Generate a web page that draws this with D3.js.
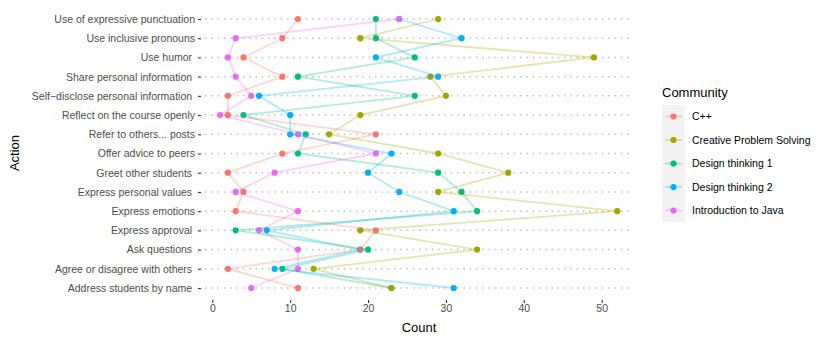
<!DOCTYPE html>
<html>
<head>
<meta charset="utf-8">
<script src="https://cdn.jsdelivr.net/npm/d3@7"></script>
<style>
body{margin:0;background:#fff;}
text{font-family:"Liberation Sans",Arial,sans-serif;}
</style>
</head>
<body>
<svg id="chart" width="830" height="342"></svg>
<script>
// actions, top to bottom
var actions = ["Use of expressive punctuation","Use inclusive pronouns","Use humor ","Share personal information ",
  "Self\u2212disclose personal information ","Reflect on the course openly","Refer to others... posts","Offer advice to peers",
  "Greet other students ","Express personal values ","Express emotions","Express approval ","Ask questions ",
  "Agree or disagree with others ","Address students by name "];

var communities = ["C++","Creative Problem Solving","Design thinking 1","Design thinking 2","Introduction to Java"];
var colorList = ["#F8766D","#A3A500","#00BF7D","#00B0F6","#E76BF3"];

// counts per community, same order as actions
var cpp  = [11, 9, 4, 9, 2, 2,21, 9, 2, 4, 3,21,19, 2,11];
var cps  = [29,19,49,28,30,19,15,29,38,29,52,19,34,13,23];
var dt1  = [21,21,26,11,26, 4,12,11,29,32,34, 3,20, 9,23];
var dt2  = [24,32,21,29, 6,10,10,23,20,24,31, 7,19, 8,31];
var java = [24, 3, 2, 3, 5, 1,11,21, 8, 3,11, 6,11,11, 5];

var xTicks = [0,10,20,30,40,50];

var seriesValues = [cpp,cps,dt1,dt2,java];
// point draw order (later = on top)
var drawOrder = [2,3,0,1,4];

var svg = d3.select("#chart");

var xScale = d3.scaleLinear().domain([0,50]).range([212.3,601.7]);
var yScale = d3.scalePoint().domain(actions).range([19,288]);
var colors = d3.scaleOrdinal().domain(communities).range(colorList);

// dotted horizontal guides
svg.append("g").selectAll("line")
  .data(actions)
  .enter()
  .append("line")
  .attr("x1",205).attr("x2",632)
  .attr("y1",function(d){return yScale(d);})
  .attr("y2",function(d){return yScale(d);})
  .attr("stroke","#bdbdbd")
  .attr("stroke-width",1.5)
  .attr("stroke-dasharray","1.5 4.8");

var yAxis = d3.axisLeft(yScale).tickSize(3).tickPadding(3);
var gy = svg.append("g").attr("transform","translate(201,0)").call(yAxis);
gy.select(".domain").remove();
gy.selectAll("line").attr("stroke","#333").attr("stroke-width",1.1);
gy.selectAll("text").attr("fill","#4d4d4d").attr("font-size","10.5px").style("white-space","pre");

var xAxis = d3.axisBottom(xScale).tickValues(xTicks).tickSize(3).tickPadding(2);
var gx = svg.append("g").attr("transform","translate(0,300)").call(xAxis);
gx.select(".domain").remove();
gx.selectAll("line").attr("stroke","#333").attr("stroke-width",1.1);
gx.selectAll("text").attr("fill","#4d4d4d").attr("font-size","10.5px");

// points
var pts = svg.append("g");
drawOrder.forEach(function(k){
  pts.selectAll(".p"+k)
    .data(seriesValues[k])
    .enter()
    .append("circle")
    .attr("cx",function(d){return xScale(d);})
    .attr("cy",function(d,i){return yScale(actions[i]);})
    .attr("r",3.1)
    .attr("fill",colors(communities[k]));
});

// lines (semi transparent, drawn over the points)
var line = d3.line()
  .x(function(d){return xScale(d);})
  .y(function(d,i){return yScale(actions[i]);});

svg.append("g").selectAll("path")
  .data(seriesValues)
  .enter()
  .append("path")
  .attr("d",function(d){return line(d);})
  .attr("fill","none")
  .attr("stroke",function(d,i){return colors(communities[i]);})
  .attr("stroke-width",1.8)
  .attr("stroke-opacity",0.3);

// axis titles
svg.append("text").attr("x",419).attr("y",332).attr("text-anchor","middle")
  .attr("font-size","13px").attr("fill","#000").text("Count");
svg.append("text").attr("transform","translate(19,153) rotate(-90)").attr("text-anchor","middle")
  .attr("font-size","13px").attr("fill","#000").text("Action");

// legend
var legend = svg.append("g").attr("transform","translate(662,0)");
legend.append("text").attr("x",0).attr("y",97).attr("font-size","13px").attr("fill","#000").text("Community");
legend.append("rect").attr("x",0).attr("y",105).attr("width",23).attr("height",117).attr("fill","#f2f2f2");
var items = legend.selectAll(".item")
  .data(communities)
  .enter()
  .append("g")
  .attr("transform",function(d,i){return "translate(0,"+(116.5+i*23.5)+")";});
items.append("line").attr("x1",3).attr("x2",20).attr("y1",0).attr("y2",0)
  .attr("stroke",function(d){return colors(d);}).attr("stroke-width",1.8).attr("stroke-opacity",0.3);
items.append("circle").attr("cx",11.5).attr("cy",0).attr("r",3.1).attr("fill",function(d){return colors(d);});
items.append("text").attr("x",30).attr("y",3.8).attr("font-size","10.5px").attr("fill","#000").text(function(d){return d;});
</script>
</body>
</html>
